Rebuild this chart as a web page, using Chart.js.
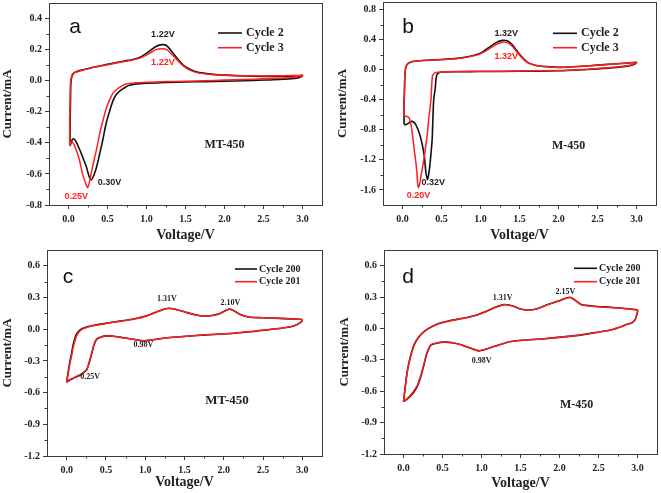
<!DOCTYPE html>
<html lang="en">
<head>
<meta charset="UTF-8">
<title>CV curves</title>
<script src="https://cdn.jsdelivr.net/npm/chart.js@4.4.1/dist/chart.umd.min.js"></script>
<style>
    body { margin: 0; background: #fff; }
    .wrap { position: relative; width: 661px; height: 493px; }
    canvas { position: absolute; }
</style>
</head>
<body>
<div class="wrap">
    <canvas id="chartA" width="330" height="245" style="left:0;top:0"></canvas>
    <canvas id="chartB" width="331" height="245" style="left:330px;top:0"></canvas>
    <canvas id="chartC" width="330" height="248" style="left:0;top:245px"></canvas>
    <canvas id="chartD" width="331" height="248" style="left:330px;top:245px"></canvas>
</div>

<script>
// ---- data: [voltage V, current mA] ----
const xTicks = [0.0, 0.5, 1.0, 1.5, 2.0, 2.5, 3.0];
const yTicksA = [0.4, 0.2, 0.0, -0.2, -0.4, -0.6, -0.8];
const yTicksB = [0.8, 0.4, 0.0, -0.4, -0.8, -1.2, -1.6];
const yTicksCD = [0.6, 0.3, 0.0, -0.3, -0.6, -0.9, -1.2];

// panel a: MT-450, cycles 2 and 3
const aCycle2 = [
    [0.02,-0.42],[0.02,-0.3],[0.025,-0.15],[0.03,-0.02],[0.045,0.03],[0.07,0.05],[0.1,0.058],[0.2,0.072],
    [0.3,0.085],[0.5,0.105],[0.7,0.125],[0.85,0.14],[0.95,0.16],[1.05,0.195],[1.12,0.22],[1.2,0.232],
    [1.26,0.225],[1.32,0.19],[1.4,0.14],[1.47,0.1],[1.55,0.075],[1.65,0.055],[1.8,0.044],[2.0,0.036],
    [2.25,0.03],[2.5,0.028],[2.75,0.028],[2.95,0.03],[3.0,0.033],
    [2.97,0.022],[2.9,0.015],[2.7,0.008],[2.5,0.004],[2.25,0.0],[2.0,-0.003],[1.75,-0.006],[1.5,-0.008],
    [1.25,-0.012],[1.0,-0.016],[0.85,-0.022],[0.78,-0.03],[0.72,-0.045],[0.66,-0.065],[0.61,-0.09],
    [0.57,-0.13],[0.53,-0.19],[0.48,-0.28],[0.44,-0.38],[0.4,-0.47],[0.36,-0.555],[0.32,-0.615],
    [0.29,-0.638],[0.26,-0.61],[0.23,-0.555],[0.18,-0.49],[0.14,-0.44],[0.1,-0.395],[0.07,-0.375],
    [0.05,-0.378],[0.035,-0.4],[0.02,-0.42]
];
const aCycle3 = [
    [0.015,-0.42],[0.015,-0.3],[0.02,-0.15],[0.025,-0.02],[0.04,0.03],[0.065,0.05],[0.1,0.056],[0.2,0.07],
    [0.3,0.083],[0.5,0.103],[0.7,0.122],[0.85,0.136],[0.95,0.152],[1.05,0.18],[1.12,0.2],[1.2,0.206],
    [1.26,0.2],[1.32,0.172],[1.4,0.13],[1.47,0.095],[1.55,0.07],[1.65,0.052],[1.8,0.042],[2.0,0.036],
    [2.25,0.032],[2.5,0.031],[2.75,0.032],[2.95,0.034],[3.0,0.036],
    [2.97,0.028],[2.9,0.022],[2.7,0.016],[2.5,0.012],[2.25,0.008],[2.0,0.004],[1.75,0.0],[1.5,-0.003],
    [1.25,-0.006],[1.0,-0.01],[0.85,-0.014],[0.75,-0.02],[0.68,-0.035],[0.62,-0.055],[0.57,-0.08],
    [0.53,-0.12],[0.49,-0.17],[0.45,-0.24],[0.4,-0.34],[0.36,-0.44],[0.31,-0.55],[0.27,-0.65],
    [0.245,-0.688],[0.22,-0.66],[0.18,-0.6],[0.14,-0.51],[0.1,-0.448],[0.07,-0.41],[0.045,-0.395],
    [0.03,-0.4],[0.015,-0.42]
];

// panel b: M-450, cycles 2 and 3
const bCycle2 = [
    [0.02,-0.73],[0.02,-0.5],[0.025,-0.3],[0.03,-0.1],[0.04,0.02],[0.06,0.07],[0.1,0.1],[0.17,0.115],
    [0.3,0.125],[0.5,0.135],[0.7,0.15],[0.85,0.175],[1.0,0.22],[1.1,0.29],[1.2,0.36],[1.28,0.39],
    [1.34,0.385],[1.4,0.34],[1.46,0.26],[1.53,0.17],[1.6,0.1],[1.7,0.06],[1.85,0.04],[2.05,0.03],
    [2.3,0.045],[2.5,0.06],[2.7,0.075],[2.9,0.088],[3.0,0.095],
    [2.97,0.07],[2.9,0.05],[2.75,0.03],[2.5,0.01],[2.25,-0.005],[2.0,-0.015],[1.5,-0.022],[1.0,-0.025],
    [0.7,-0.028],[0.5,-0.032],[0.47,-0.04],[0.445,-0.06],[0.43,-0.12],[0.42,-0.25],[0.4,-0.4],
    [0.39,-0.65],[0.38,-0.93],[0.365,-1.12],[0.35,-1.28],[0.335,-1.4],[0.32,-1.46],[0.31,-1.42],
    [0.3,-1.37],[0.29,-1.26],[0.28,-1.15],[0.25,-0.98],[0.214,-0.84],[0.17,-0.73],[0.13,-0.69],
    [0.108,-0.69],[0.08,-0.71],[0.05,-0.73],[0.02,-0.73]
];
const bCycle3 = [
    [0.02,-0.615],[0.02,-0.45],[0.025,-0.25],[0.03,-0.08],[0.04,0.02],[0.06,0.07],[0.1,0.1],[0.17,0.115],
    [0.3,0.123],[0.5,0.133],[0.7,0.148],[0.85,0.17],[1.0,0.21],[1.1,0.27],[1.2,0.335],[1.28,0.365],
    [1.34,0.36],[1.4,0.32],[1.46,0.245],[1.53,0.16],[1.6,0.095],[1.7,0.06],[1.85,0.04],[2.05,0.032],
    [2.3,0.045],[2.5,0.06],[2.7,0.075],[2.9,0.09],[3.0,0.1],
    [2.97,0.075],[2.9,0.055],[2.75,0.035],[2.5,0.015],[2.25,0.0],[2.0,-0.01],[1.5,-0.018],[1.0,-0.022],
    [0.7,-0.025],[0.5,-0.03],[0.45,-0.035],[0.41,-0.045],[0.385,-0.08],[0.375,-0.2],[0.365,-0.4],
    [0.34,-0.62],[0.32,-0.84],[0.3,-1.0],[0.28,-1.15],[0.26,-1.28],[0.236,-1.42],[0.22,-1.52],
    [0.206,-1.57],[0.195,-1.52],[0.185,-1.38],[0.17,-1.22],[0.15,-1.06],[0.13,-0.88],[0.11,-0.74],
    [0.085,-0.64],[0.05,-0.62],[0.02,-0.615]
];

// panel c: MT-450, cycles 200 and 201
const cCycle200 = [
    [0.0,-0.5],[0.018,-0.41],[0.038,-0.32],[0.06,-0.24],[0.085,-0.14],[0.122,-0.05],[0.175,-0.004],
    [0.25,0.02],[0.35,0.038],[0.51,0.058],[0.7,0.079],[0.85,0.096],[1.02,0.127],[1.15,0.166],
    [1.28,0.197],[1.38,0.19],[1.53,0.157],[1.65,0.134],[1.74,0.125],[1.85,0.13],[1.96,0.152],
    [2.03,0.18],[2.08,0.192],[2.14,0.17],[2.21,0.14],[2.3,0.118],[2.38,0.111],[2.5,0.109],
    [2.7,0.103],[2.85,0.098],[2.98,0.095],[3.0,0.085],
    [2.97,0.06],[2.89,0.031],[2.75,0.011],[2.55,-0.007],[2.13,-0.038],[1.7,-0.057],[1.28,-0.081],
    [1.1,-0.1],[0.98,-0.11],[0.85,-0.095],[0.72,-0.08],[0.6,-0.067],[0.51,-0.063],[0.44,-0.073],
    [0.38,-0.096],[0.35,-0.145],[0.32,-0.23],[0.29,-0.31],[0.255,-0.385],[0.21,-0.415],
    [0.17,-0.435],[0.085,-0.465],[0.03,-0.485],[0.0,-0.5]
];
const cCycle201 = [
    [0.0,-0.505],[0.02,-0.42],[0.04,-0.33],[0.064,-0.25],[0.09,-0.15],[0.128,-0.06],[0.18,-0.01],
    [0.25,0.016],[0.35,0.035],[0.51,0.057],[0.7,0.078],[0.85,0.095],[1.02,0.126],[1.15,0.165],
    [1.28,0.196],[1.38,0.19],[1.53,0.158],[1.65,0.135],[1.74,0.126],[1.85,0.13],[1.96,0.15],
    [2.03,0.178],[2.08,0.19],[2.14,0.17],[2.21,0.14],[2.3,0.118],[2.38,0.11],[2.5,0.108],
    [2.7,0.103],[2.85,0.098],[2.98,0.095],[3.0,0.085],
    [2.97,0.06],[2.89,0.032],[2.75,0.012],[2.55,-0.006],[2.13,-0.037],[1.7,-0.056],[1.28,-0.08],
    [1.1,-0.1],[0.98,-0.11],[0.85,-0.095],[0.72,-0.08],[0.6,-0.067],[0.51,-0.063],[0.44,-0.072],
    [0.38,-0.094],[0.35,-0.14],[0.32,-0.22],[0.29,-0.3],[0.255,-0.38],[0.21,-0.41],
    [0.17,-0.43],[0.085,-0.46],[0.03,-0.48],[0.0,-0.505]
];

// panel d: M-450, cycles 200 and 201
const dCycle200 = [
    [0.0,-0.7],[0.02,-0.57],[0.05,-0.4],[0.09,-0.265],[0.14,-0.15],[0.2,-0.077],[0.27,-0.026],
    [0.36,0.017],[0.48,0.054],[0.6,0.075],[0.74,0.095],[0.85,0.112],[0.95,0.132],[1.07,0.166],
    [1.17,0.2],[1.29,0.228],[1.36,0.222],[1.42,0.21],[1.5,0.186],[1.6,0.177],[1.7,0.186],
    [1.85,0.228],[2.0,0.266],[2.13,0.298],[2.2,0.27],[2.28,0.228],[2.45,0.212],[2.65,0.203],
    [2.88,0.188],[3.0,0.175],
    [2.99,0.13],[2.97,0.084],[2.93,0.055],[2.88,0.042],[2.67,-0.012],[2.45,-0.04],[2.24,-0.066],
    [1.81,-0.098],[1.38,-0.125],[1.17,-0.171],[0.97,-0.214],[0.85,-0.186],[0.74,-0.156],
    [0.62,-0.136],[0.52,-0.131],[0.42,-0.142],[0.35,-0.16],[0.3,-0.24],[0.27,-0.325],
    [0.22,-0.465],[0.18,-0.55],[0.13,-0.612],[0.094,-0.643],[0.04,-0.68],[0.0,-0.7]
];
const dCycle201 = [
    [0.0,-0.7],[0.02,-0.58],[0.05,-0.41],[0.09,-0.27],[0.14,-0.155],[0.2,-0.08],[0.27,-0.028],
    [0.36,0.015],[0.48,0.052],[0.6,0.073],[0.74,0.093],[0.85,0.11],[0.95,0.13],[1.07,0.165],
    [1.17,0.2],[1.29,0.227],[1.36,0.222],[1.42,0.21],[1.5,0.185],[1.6,0.176],[1.7,0.185],
    [1.85,0.227],[2.0,0.265],[2.13,0.297],[2.2,0.27],[2.28,0.227],[2.45,0.21],[2.65,0.2],
    [2.88,0.186],[3.0,0.173],
    [2.99,0.13],[2.97,0.084],[2.93,0.055],[2.88,0.042],[2.67,-0.012],[2.45,-0.04],[2.24,-0.066],
    [1.81,-0.098],[1.38,-0.124],[1.17,-0.17],[0.97,-0.213],[0.85,-0.185],[0.74,-0.155],
    [0.62,-0.135],[0.52,-0.13],[0.42,-0.14],[0.35,-0.155],[0.3,-0.23],[0.27,-0.315],
    [0.22,-0.45],[0.18,-0.538],[0.13,-0.6],[0.094,-0.633],[0.04,-0.675],[0.0,-0.7]
];

const BLACK = '#111111';
const RED = '#ff1f1f';
const AXIS = '#3a3a3a';
const SERIF = '"Liberation Serif", "Times New Roman", serif';
const SANS = '"Liberation Sans", Arial, sans-serif';

function pts(arr) {
    return arr.map(p => ({ x: p[0], y: p[1] }));
}

// no extra label padding, so the plot box lands where the layout says
function noPad(s) {
    s.paddingTop = 0;
    s.paddingBottom = 0;
    s.paddingLeft = 0;
    s.paddingRight = 0;
}

// draws frame, minor ticks, axis titles, panel letter, legend and notes
const extras = {
    id: 'extras',
    afterDraw(chart) {
        const o = chart.options.plugins.extras;
        const ctx = chart.ctx;
        const ca = chart.chartArea;
        const xs = chart.scales.x, ys = chart.scales.y;
        ctx.save();

        // frame
        ctx.strokeStyle = AXIS;
        ctx.lineWidth = 1;
        ctx.strokeRect(Math.round(ca.left) + 0.5, Math.round(ca.top) + 0.5,
            Math.round(ca.right - ca.left), Math.round(ca.bottom - ca.top));

        // minor ticks
        ctx.beginPath();
        for (let i = 0; i < xTicks.length - 1; i++) {
            const px = Math.round(xs.getPixelForValue((xTicks[i] + xTicks[i + 1]) / 2)) + 0.5;
            ctx.moveTo(px, ca.bottom);
            ctx.lineTo(px, ca.bottom + 2.5);
        }
        const yt = o.yTicks;
        for (let i = 0; i < yt.length - 1; i++) {
            const py = Math.round(ys.getPixelForValue((yt[i] + yt[i + 1]) / 2)) + 0.5;
            ctx.moveTo(ca.left, py);
            ctx.lineTo(ca.left - 2.5, py);
        }
        ctx.stroke();

        // axis titles
        ctx.fillStyle = '#222';
        ctx.textAlign = 'center';
        ctx.textBaseline = 'middle';
        ctx.font = 'bold 14px ' + SERIF;
        ctx.fillText('Voltage/V', (ca.left + ca.right) / 2, ca.bottom + o.xTitleGap);
        ctx.save();
        ctx.translate(ca.left - o.yTitleGap, (ca.top + ca.bottom) / 2);
        ctx.rotate(-Math.PI / 2);
        ctx.font = 'bold 13px ' + SERIF;
        ctx.fillText('Current/mA', 0, 0);
        ctx.restore();

        // panel letter
        ctx.fillStyle = '#111';
        ctx.font = '21px ' + SANS;
        ctx.fillText(o.letter, ca.left + o.letterPos[0], ca.top + o.letterPos[1]);

        // legend
        const lg = o.legend;
        chart.data.datasets.forEach((ds, i) => {
            const y = ca.top + lg.y[i];
            ctx.strokeStyle = ds.borderColor;
            ctx.lineWidth = 1.6;
            ctx.beginPath();
            ctx.moveTo(ca.left + lg.x0, y);
            ctx.lineTo(ca.left + lg.x1, y);
            ctx.stroke();
            ctx.fillStyle = '#222';
            ctx.textAlign = 'left';
            ctx.font = 'bold ' + lg.size + 'px ' + SERIF;
            ctx.fillText(ds.label, ca.left + lg.tx, y);
        });

        // notes at data positions
        ctx.textAlign = 'center';
        o.notes.forEach(n => {
            ctx.fillStyle = n.color || '#222';
            ctx.font = n.font;
            ctx.fillText(n.text, xs.getPixelForValue(n.v), ys.getPixelForValue(n.i));
        });
        ctx.restore();
    }
};

function makePanel(id, cfg) {
    const tickFont = { family: SERIF, weight: 'bold', size: 10 };
    return new Chart(document.getElementById(id), {
        type: 'scatter',
        data: {
            datasets: [
                { label: cfg.labels[0], data: pts(cfg.series[0]), borderColor: BLACK, backgroundColor: BLACK,
                  showLine: true, pointRadius: 0, borderWidth: 1.6, tension: 0.25, order: 1 },
                { label: cfg.labels[1], data: pts(cfg.series[1]), borderColor: RED, backgroundColor: RED,
                  showLine: true, pointRadius: 0, borderWidth: 1.5, tension: 0.25, order: 0 }
            ]
        },
        options: {
            responsive: false,
            animation: false,
            devicePixelRatio: 1,
            layout: { padding: cfg.padding },
            scales: {
                x: {
                    type: 'linear', min: -0.25, max: 3.25,
                    afterBuildTicks: s => { s.ticks = xTicks.map(v => ({ value: v })); },
                    afterFit: s => { s.height = cfg.xHeight; noPad(s); },
                    ticks: { callback: v => v.toFixed(1), font: tickFont, color: '#222', padding: 4, maxRotation: 0, autoSkip: false },
                    grid: { drawOnChartArea: false, tickLength: 4, color: AXIS },
                    border: { color: AXIS }
                },
                y: {
                    type: 'linear', min: cfg.yMin, max: cfg.yMax,
                    afterBuildTicks: s => { s.ticks = cfg.yTicks.map(v => ({ value: v })); },
                    afterFit: s => { s.width = cfg.yWidth; noPad(s); },
                    ticks: { callback: v => v.toFixed(1), font: tickFont, color: '#222', padding: 3, autoSkip: false },
                    grid: { drawOnChartArea: false, tickLength: 4, color: AXIS },
                    border: { color: AXIS }
                }
            },
            plugins: {
                legend: { display: false },
                tooltip: { enabled: false },
                extras: {
                    yTicks: cfg.yTicks,
                    letter: cfg.letter,
                    letterPos: cfg.letterPos,
                    legend: cfg.legend,
                    notes: cfg.notes,
                    xTitleGap: cfg.xTitleGap,
                    yTitleGap: cfg.yTitleGap
                }
            }
        },
        plugins: [extras]
    });
}

const bigNote = 'bold 9px ' + SANS;
const smallNote = 'bold 8px ' + SERIF;
const nameFont = 'bold 12px ' + SERIF;

makePanel('chartA', {
    labels: ['Cycle 2', 'Cycle 3'], series: [aCycle2, aCycle3],
    yMin: -0.8, yMax: 0.5, yTicks: yTicksA,
    padding: { top: 3, right: 8, left: 0, bottom: 0 }, yWidth: 49, xHeight: 40,
    xTitleGap: 30, yTitleGap: 41,
    letter: 'a', letterPos: [26, 24],
    legend: { x0: 169, x1: 193, tx: 197, y: [30, 44.7], size: 12 },
    notes: [
        { text: '1.22V', v: 1.21, i: 0.30, font: bigNote },
        { text: '1.22V', v: 1.21, i: 0.114, font: bigNote, color: RED },
        { text: '0.30V', v: 0.527, i: -0.658, font: bigNote },
        { text: '0.25V', v: 0.1, i: -0.743, font: bigNote, color: RED },
        { text: 'MT-450', v: 2.0, i: -0.416, font: nameFont }
    ]
});

makePanel('chartB', {
    labels: ['Cycle 2', 'Cycle 3'], series: [bCycle2, bCycle3],
    yMin: -1.8, yMax: 0.9, yTicks: yTicksB,
    padding: { top: 2, right: 5, left: 0, bottom: 0 }, yWidth: 53, xHeight: 40,
    xTitleGap: 30, yTitleGap: 40,
    letter: 'b', letterPos: [25, 25],
    legend: { x0: 170, x1: 194, tx: 198, y: [31.3, 45.7], size: 12 },
    notes: [
        { text: '1.32V', v: 1.33, i: 0.48, font: bigNote },
        { text: '1.32V', v: 1.33, i: 0.172, font: bigNote, color: RED },
        { text: '0.32V', v: 0.395, i: -1.505, font: bigNote },
        { text: '0.20V', v: 0.206, i: -1.68, font: bigNote, color: RED },
        { text: 'M-450', v: 2.13, i: -1.02, font: nameFont }
    ]
});

makePanel('chartC', {
    labels: ['Cycle 200', 'Cycle 201'], series: [cCycle200, cCycle201],
    yMin: -1.2, yMax: 0.75, yTicks: yTicksCD,
    padding: { top: 5, right: 8, left: 0, bottom: 0 }, yWidth: 47, xHeight: 37,
    xTitleGap: 26, yTitleGap: 39,
    letter: 'c', letterPos: [21, 27],
    legend: { x0: 188, x1: 210, tx: 212, y: [19, 31.7], size: 10 },
    notes: [
        { text: '1.31V', v: 1.277, i: 0.285, font: smallNote },
        { text: '2.10V', v: 2.085, i: 0.247, font: smallNote },
        { text: '0.98V', v: 0.978, i: -0.151, font: smallNote },
        { text: '0.25V', v: 0.3, i: -0.451, font: smallNote },
        { text: 'MT-450', v: 2.04, i: -0.68, font: 'bold 13px ' + SERIF }
    ]
});

makePanel('chartD', {
    labels: ['Cycle 200', 'Cycle 201'], series: [dCycle200, dCycle201],
    yMin: -1.2, yMax: 0.75, yTicks: yTicksCD,
    padding: { top: 5, right: 4, left: 0, bottom: 0 }, yWidth: 54, xHeight: 39,
    xTitleGap: 29, yTitleGap: 39,
    letter: 'd', letterPos: [24, 27],
    legend: { x0: 190, x1: 213, tx: 215, y: [18.3, 31.7], size: 10 },
    notes: [
        { text: '1.31V', v: 1.27, i: 0.29, font: smallNote },
        { text: '2.15V', v: 2.074, i: 0.345, font: smallNote },
        { text: '0.98V', v: 1.003, i: -0.315, font: smallNote },
        { text: 'M-450', v: 2.22, i: -0.73, font: nameFont }
    ]
});
</script>
</body>
</html>
